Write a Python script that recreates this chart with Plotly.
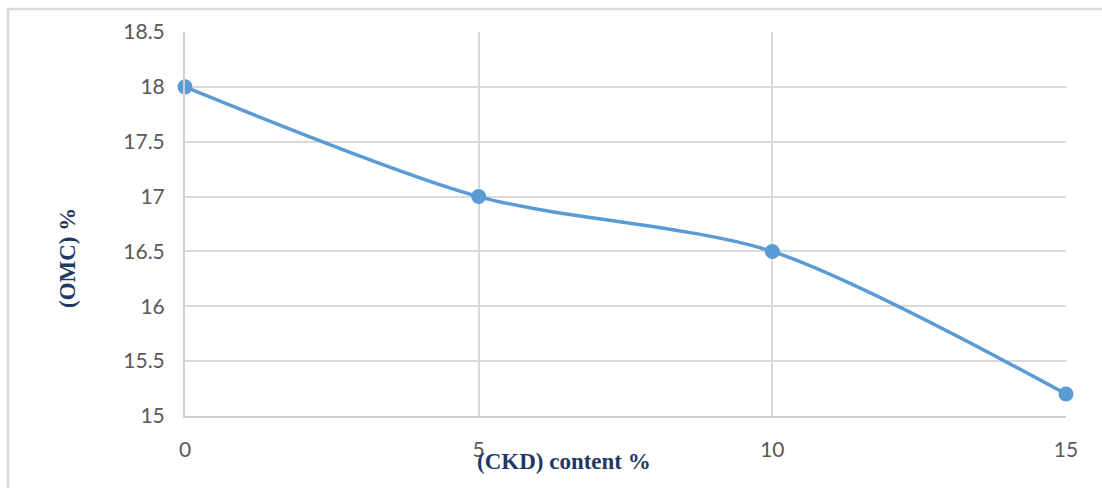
import plotly.graph_objects as go

# CKD content (%) and optimum moisture content (%)
ckd_content = [0, 5, 10, 15]
omc_values = [18, 17, 16.5, 15.2]
y_ticks = [15, 15.5, 16, 16.5, 17, 17.5, 18, 18.5]
x_ticks = [0, 5, 10, 15]

W, H = 1102, 488
L, R, T, B = 185, 36, 32, 72
pw, ph = W - L - R, H - T - B


def px_x(px):
    return (px - L) / pw


def px_y(py):
    return (H - B - py) / ph


fig = go.Figure()
fig.add_trace(go.Scatter(
    x=ckd_content, y=omc_values,
    mode="lines+markers",
    line=dict(color="#5B9BD5", width=3.5, shape="spline", smoothing=0.8),
    marker=dict(color="#5B9BD5", size=15),
    showlegend=False,
    cliponaxis=False,
))

axis_common = dict(
    showgrid=True, gridcolor="#D9D9D9", gridwidth=2,
    showline=True, linecolor="#CFCFCF", linewidth=2,
    zeroline=False, ticks="",
    tickfont=dict(family="Lato", size=21, color="#595959"),
)

fig.update_xaxes(range=[0, 15], tickvals=x_ticks, ticklabelstandoff=14,
                 mirror=False, **axis_common)
fig.update_yaxes(range=[15, 18.5], tickvals=y_ticks,
                 ticktext=[f"{v:g}" for v in y_ticks],
                 ticklabelstandoff=14, **axis_common)

title_font = dict(family="Liberation Serif", size=23, color="#1F3864")
fig.add_annotation(text="<b>(CKD) content %</b>", xref="paper", yref="paper",
                   x=px_x(564), y=px_y(461), showarrow=False,
                   xanchor="center", yanchor="middle", font=title_font)
fig.add_annotation(text="<b>(OMC) %</b>", xref="paper", yref="paper",
                   x=px_x(67), y=px_y(258), showarrow=False, textangle=-90,
                   xanchor="center", yanchor="middle", font=title_font)

# chart frame
fig.add_shape(type="rect", xref="paper", yref="paper",
              x0=px_x(8), x1=px_x(1112), y0=px_y(498), y1=px_y(9),
              line=dict(color="#D9D9D9", width=2.5), layer="below")

fig.update_layout(
    width=W, height=H,
    margin=dict(l=L, r=R, t=T, b=B),
    paper_bgcolor="white", plot_bgcolor="white",
)

fig.write_html("out.html")
